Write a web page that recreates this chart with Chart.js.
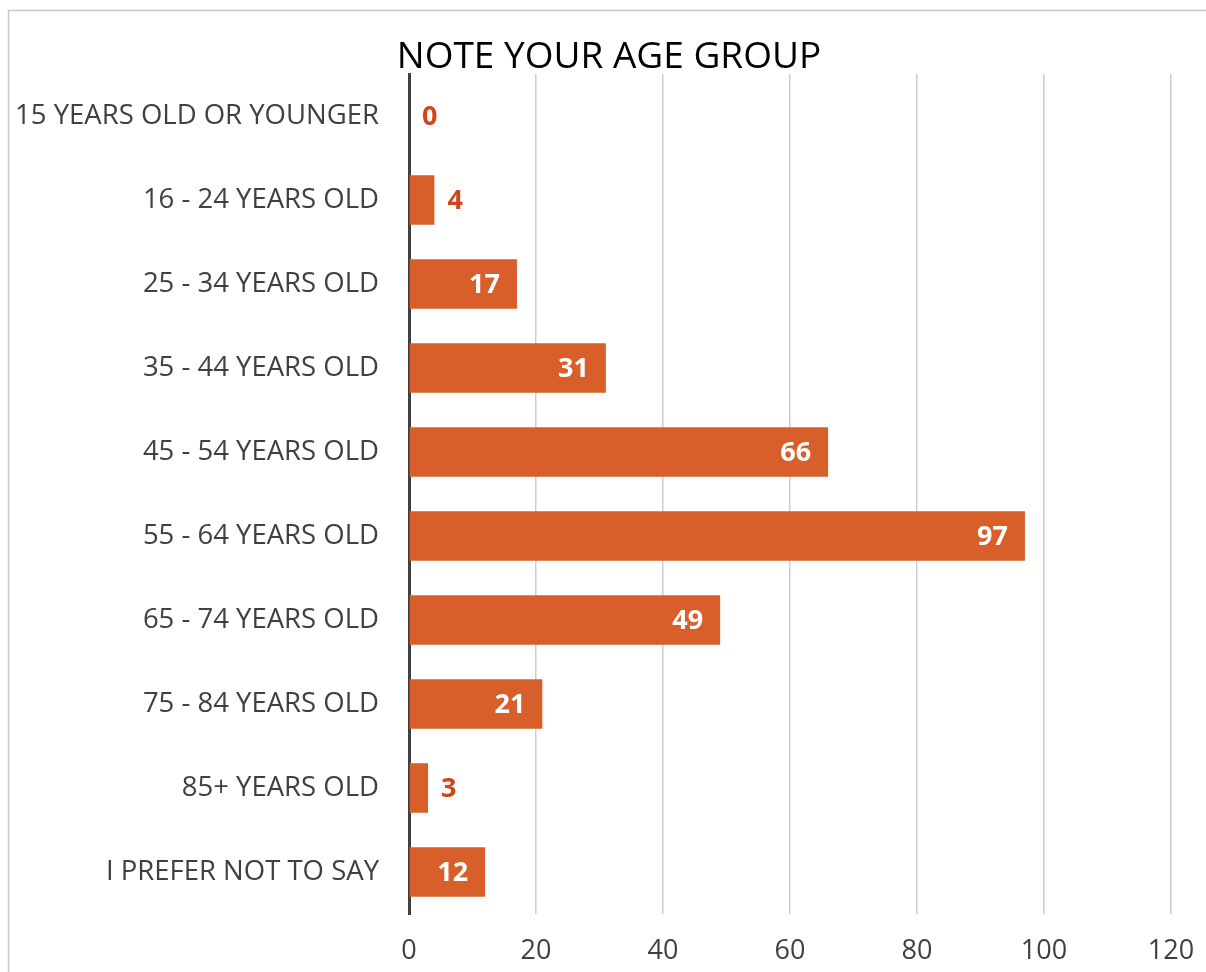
<!DOCTYPE html>
<html>
<head>
<meta charset="utf-8">
<script src="https://cdn.jsdelivr.net/npm/chart.js@4.4.1/dist/chart.umd.min.js"></script>
<style>
  html, body { margin: 0; padding: 0; background: #fff; }
  #wrap { width: 1206px; height: 972px; position: relative; }
</style>
</head>
<body>
<div id="wrap"><canvas id="chart" width="1206" height="972"></canvas></div>
<script>
// ── data ──────────────────────────────────────────────
const categories = [
  "15 YEARS OLD OR YOUNGER",
  "16 - 24 YEARS OLD",
  "25 - 34 YEARS OLD",
  "35 - 44 YEARS OLD",
  "45 - 54 YEARS OLD",
  "55 - 64 YEARS OLD",
  "65 - 74 YEARS OLD",
  "75 - 84 YEARS OLD",
  "85+ YEARS OLD",
  "I PREFER NOT TO SAY",
];
const counts = [0, 4, 17, 31, 66, 97, 49, 21, 3, 12];
const xTicks = [0, 20, 40, 60, 80, 100, 120];
const chartTitle = "NOTE YOUR AGE GROUP";

// ── style ─────────────────────────────────────────────
const BAR = "#D95F2A";
const LABEL_OUT = "#D0461A";
const TEXT = "#404040";
const GRID = "#cdcdcd";
const FONT = "'Open Sans', sans-serif";
const INSIDE_MIN = 10; // values this big get a white label inside the bar end

// frame + title drawn by hand so the title can sit off-centre like the original
const framePlugin = {
  id: "frame",
  beforeDraw(chart) {
    const ctx = chart.ctx;
    ctx.save();
    ctx.strokeStyle = "#c8c8c8";
    ctx.lineWidth = 1.5;
    ctx.strokeRect(8.5, 10.5, 1400, 1400);
    ctx.fillStyle = "#000";
    ctx.font = "37px " + FONT;
    ctx.textAlign = "center";
    ctx.textBaseline = "middle";
    ctx.fillText(chartTitle, 609, 57);
    ctx.restore();
  },
};

const valueLabels = {
  id: "valueLabels",
  afterDatasetsDraw(chart) {
    const ctx = chart.ctx;
    const meta = chart.getDatasetMeta(0);
    ctx.save();
    ctx.font = "bold 27px " + FONT;
    ctx.textBaseline = "middle";
    meta.data.forEach((bar, i) => {
      const v = counts[i];
      if (v >= INSIDE_MIN) {
        ctx.fillStyle = "#fff";
        ctx.textAlign = "right";
        ctx.fillText(String(v), bar.x - 17, bar.y + 1);
      } else {
        ctx.fillStyle = LABEL_OUT;
        ctx.textAlign = "left";
        ctx.fillText(String(v), bar.x + 13, bar.y + 1);
      }
    });
    ctx.restore();
  },
};

new Chart(document.getElementById("chart"), {
  type: "bar",
  data: {
    labels: categories,
    datasets: [{
      data: counts,
      backgroundColor: BAR,
      borderWidth: 0,
      categoryPercentage: 1,
      barPercentage: 0.59,
    }],
  },
  options: {
    indexAxis: "y",
    responsive: false,
    animation: false,
    layout: { padding: { left: 8, right: 35, top: 74, bottom: 0 } },
    plugins: {
      legend: { display: false },
      title: { display: false },
      tooltip: { enabled: false },
    },
    scales: {
      x: {
        min: 0,
        max: 120,
        afterBuildTicks(scale) { scale.ticks = xTicks.map((v) => ({ value: v })); },
        afterFit(scale) {
          scale.height = 58;
          scale.paddingLeft = 0;
          scale.paddingRight = 0;
        },
        grid: { color: GRID, lineWidth: 1.5, drawTicks: false },
        border: { display: false },
        ticks: { color: TEXT, font: { family: FONT, size: 27 }, padding: 21 },
      },
      y: {
        afterFit(scale) {
          scale.width = 401;
          scale.paddingTop = 0;
          scale.paddingBottom = 0;
        },
        grid: { display: false, drawTicks: false },
        border: { display: true, color: TEXT, width: 3 },
        ticks: { color: TEXT, font: { family: FONT, size: 27.5 }, padding: 30 },
      },
    },
  },
  plugins: [framePlugin, valueLabels],
});
</script>
</body>
</html>
